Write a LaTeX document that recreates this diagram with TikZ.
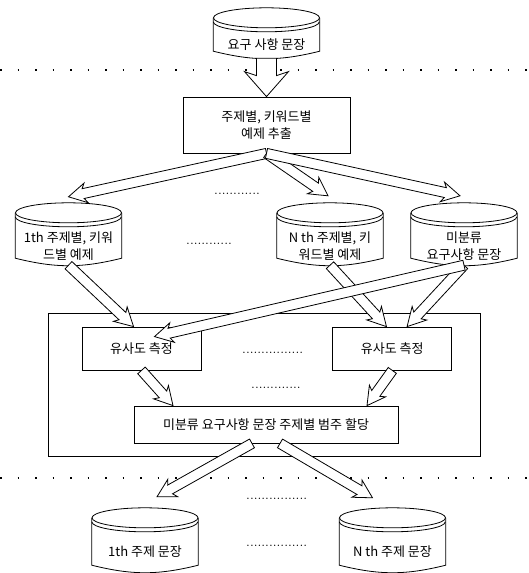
\documentclass[tikz,border=0pt]{standalone}
\usepackage{fontspec}
\newfontfamily\kr{Noto Sans CJK KR}
\usetikzlibrary{calc,positioning}

% outline of a disk (stored data) drawn round a named node
\newcommand\diskoutline[1]{%
  \draw[line width=.8pt] ($(#1.north)+(0,14)$) ellipse[x radius=53, y radius=10];
  \draw[line width=.8pt] ($(#1.north west)+(0,10)$) arc[start angle=180, end angle=360, x radius=53, y radius=10];
  \draw[line width=.8pt] ($(#1.north west)+(0,14)$) -- ($(#1.south west)+(0,7)$)
    to[bend right=14] ($(#1.south east)+(0,7)$) -- ($(#1.north east)+(0,14)$);
}
\def\sw{5}\def\hw{10}\def\hl{15}\def\bk{3}

\begin{document}
\begin{tikzpicture}[x=1pt, y=1pt,
    txt/.style={font=\kr\fontsize{13}{17}\selectfont, align=center, inner sep=0pt},
    box/.style={txt, draw, line width=.8pt},
    disk/.style={txt, minimum width=106pt},
    dots/.style={font=\fontsize{14}{14}\selectfont, inner sep=0pt, anchor=base west},
    sep/.style={line width=1.2pt, dash pattern=on 1.5pt off 16pt},
    wide/.code={\def\sw{10}\def\hw{22}\def\hl{21}\def\bk{4}},
    hollow/.style={draw, fill=white, line width=.8pt, line join=miter,
      to path={let \p1=(\tikztostart), \p2=(\tikztotarget),
        \n1={atan2(\y2-\y1,\x2-\x1)}, \n2={veclen(\x2-\x1,\y2-\y1)} in
        ($(\p1)+(\n1+90:\sw)$) -- ($(\p1)+(\n1:\n2-\hl)+(\n1+90:\sw)$)
        -- ($(\p1)+(\n1:\n2-\hl-\bk)+(\n1+90:\hw)$) -- (\p2)
        -- ($(\p1)+(\n1:\n2-\hl-\bk)+(\n1-90:\hw)$) -- ($(\p1)+(\n1:\n2-\hl)+(\n1-90:\sw)$)
        -- ($(\p1)+(\n1-90:\sw)$) -- cycle}}
  ]
  \useasboundingbox (0,0) rectangle (528,-573);

  % separators
  \draw[sep] (0,-70) -- (528,-70);
  \draw[sep] (0,-478) -- (528,-478);

  \node[draw, line width=.8pt, minimum width=432pt, minimum height=143pt] (frame) at (264,-384.5) {};

  \node[disk, minimum height=26pt] (src) at (266.5,-45) {요구 사항 문장};
  \node[box, minimum width=167pt, minimum height=56pt] (extract) at (266.5,-125) {주제별, 키워드별\\예제 추출};

  \node[disk, minimum height=38pt] (ex1) at (68.5,-246) {1th 주제별, 키워\\드별 예제};
  \node[disk, minimum height=38pt] (exN) at (330,-246) {N th 주제별, 키\\워드별 예제};
  \node[disk, minimum height=38pt] (unc) at (464,-246) {미분류\\요구사항 문장};

  \node[box, minimum width=119pt, minimum height=43pt] (simL) at (141.5,-348.5) {유사도 측정};
  \node[box, minimum width=119pt, minimum height=43pt, right=131pt of simL] (simR) {유사도 측정};
  \node[box, minimum width=264pt, minimum height=37pt] (assign) at (266,-424.5) {미분류 요구사항 문장 주제별 범주 할당};

  \node[disk, minimum height=40pt] (out1) at (145,-552) {1th 주제 문장};
  \node[disk, minimum height=40pt] (outN) at (392.5,-552) {N th 주제 문장};

  \foreach \n in {src,ex1,exN,unc,out1,outN} {\diskoutline{\n}}

  \node[dots] (dotsA) at (214,-194) {............};
  \node[dots] (dotsB) at (186,-244) {............};
  \node[dots] (dotsC) at (242,-353) {................};
  \node[dots] (dotsD) at (251,-388) {.............};
  \node[dots] (dotsE) at (246,-499) {................};
  \node[dots] (dotsF) at (246,-546) {................};

  % hollow arrows
  \draw[hollow, wide] (src.south) to (extract.north);
  \draw[hollow] (extract.south) to ([yshift=30]ex1.north);
  \draw[hollow] (extract.south) to ([xshift=-2,yshift=31]exN.north);
  \draw[hollow] (extract.south) to ([xshift=-4,yshift=31]unc.north);
  \draw[hollow] (ex1.south) to (simL.110);
  \draw[hollow] (exN.south) to (simR.105);
  \draw[hollow] (unc.south) to (simR.56);
  \draw[hollow] (unc.south) to ([xshift=13,yshift=-10]simL.north);
  \draw[hollow] (simL.south) to ([xshift=-93]assign.north);
  \draw[hollow] (simR.south) to ([xshift=101]assign.north);
  \draw[hollow] ([xshift=-14]assign.south) to ([xshift=12,yshift=35]out1.north);
  \draw[hollow] ([xshift=14]assign.south) to ([xshift=-20,yshift=34]outN.north);
\end{tikzpicture}
\end{document}
